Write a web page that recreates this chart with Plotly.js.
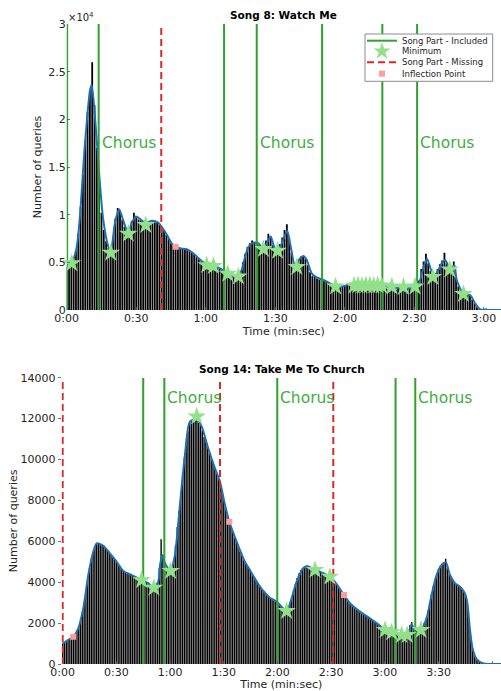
<!DOCTYPE html>
<html><head><meta charset="utf-8">
<script src="https://cdn.plot.ly/plotly-3.0.1.min.js"></script>
<style>html,body{margin:0;padding:0;background:#fff;}#chart{width:501px;height:691px;}</style>
</head><body><div id="chart"></div>
<script>
// ---------- Song 8: Watch Me ----------
const topBars = [
4500,4600,4800,5300,6200,8000,10800,14200,17800,20800,
23000,26000,21500,17000,13000,10200,8400,7200,6500,6100,
7600,9600,10700,10400,9500,8700,8000,8400,9300,10200,
9700,9500,9400,9200,9100,9250,9350,9300,9200,9150,
9000,8700,8300,7900,7500,7000,6800,6600,6500,6450,
6400,6380,6300,6150,6000,5800,5550,5350,5100,4900,
4750,4650,4600,4550,4500,4400,4300,4200,3950,3850,
3650,3500,3450,3450,3500,4100,5000,5900,6600,7000,
7300,7050,7000,6800,6550,6700,7300,8000,7700,6800,
6450,6500,6900,7600,8400,9000,7600,6000,4800,4600,
5300,5600,5700,5400,4700,3950,3600,3450,3300,3200,
3150,3050,2950,2850,2700,2500,2400,2350,2450,2500,
2600,2650,2700,2700,2450,2400,2500,2350,2400,2450,
2350,2400,2500,2400,2350,2450,2500,2300,2250,2200,
2300,2250,2150,2200,2300,2250,2150,2250,2300,2200,
2250,2400,3100,4300,5100,5900,4900,4100,3600,3800,
4300,4800,5200,6000,5000,4400,4500,5100,3400,2500,
1900,1700,1650,1600,1550,1100,700,300,80,0,
0,150
];
const topCurveT = [0,2,4.3,5.7,7.9,10.1,10.8,12.2,14.1,15.8,18,19,20.8,22.6,24.4,26.6,28,29.9,32.4,34.1,36.7,39.5,40.9,43.2,45.3,47,48.9,51.8,54.6,57.5,60.4,63.3,64.7,66.7,69.1,71.9,74.1,75.5,77,78.4,80.5,82.7,84.9,87,88,89.9,91,92.1,94.2,95.2,96.7,98.5,100.7,102.1,103.6,105.7,107.9,110.8,113.6,116.5,119.4,122.3,125,130,136,140,145,150,151.5,152.5,153.9,155.4,157.2,158.2,160.4,161.8,163.3,165.4,166.4,167.3,168.3,171.2,174.1,176.2,178.4,180,187.4];
const topCurveV = [4540,4800,6600,9800,17500,23100,23600,20300,14000,9400,6600,6100,9100,10560,9400,8000,9100,9800,9400,9100,9370,9160,8740,7900,7000,6640,6470,6370,5950,5300,4800,4600,4500,4300,3850,3500,3500,4200,5600,6600,7060,7000,6450,7340,7700,6400,6300,6600,7870,8300,6600,4700,5400,5660,5240,3850,3430,3150,2800,2380,2500,2700,2600,2550,2600,2350,2300,2300,2500,3150,4400,5400,4200,3450,4200,4900,5240,4250,4500,4700,3150,1700,1570,700,70,0,0];
const topMinT = [2.2,19,26.6,34.1,60.4,63.3,69.5,74.1,84.9,91,99.3,116,124,125.7,127.4,129.1,130.8,132.5,134.2,135.9,140.3,145.3,150.3,158,165.3,171.2];
const topMinV = [4900,6000,8000,8900,4700,4600,3800,3500,6400,6200,4500,2450,2550,2600,2550,2600,2600,2550,2600,2550,2450,2400,2450,3450,4250,1680];
const topInflT = [47];
const topInflV = [6640];
const topIncluded = [0.2,13.8,67.9,82,110.2,136.2,151.2];
const topMissing = [40.8];
const topChorus = [13.8,82,151.2];
const topTickVals = [0,30,60,90,120,150,180];
const topTickText = ['0:00','0:30','1:00','1:30','2:00','2:30','3:00'];
const topYTickVals = [0,5000,10000,15000,20000,25000,30000];
const topYTickText = ['0','0.5','1','1.5','2','2.5','3'];

// ---------- Song 14: Take Me To Church ----------
const botBars = [
1000,1050,1100,1170,1230,1290,1340,1450,1600,1800,
2150,2550,3050,3650,4200,4700,5150,5480,5750,5900,
5880,5850,5800,5760,5650,5550,5430,5320,5200,5100,
5000,4880,4750,4620,4530,4470,4420,4390,4350,4300,
4250,4220,4180,4140,4100,4050,4000,3960,3900,3820,
3760,3730,3800,4000,4700,6100,5300,4950,4700,4600,
4550,4700,5100,5800,6700,7500,8400,9300,10100,10800,
11400,11800,11900,11950,11980,11950,11800,11650,11400,11100,
10850,10600,10300,10050,9800,9580,9350,9100,8850,8500,
8000,7650,7300,6960,6700,6450,6200,6000,5750,5500,
5300,5100,4950,4800,4650,4500,4350,4200,4050,3920,
3800,3680,3570,3480,3380,3300,3230,3170,3110,3060,
3000,2900,2820,2740,2650,2600,2750,3000,3250,3600,
3900,4200,4420,4580,4680,4750,4790,4780,4740,4690,
4640,4600,4560,4530,4500,4460,4410,4360,4310,4270,
4200,4100,4030,3900,3750,3620,3500,3380,3250,3100,
2980,2900,2830,2750,2680,2620,2560,2500,2440,2370,
2320,2260,2200,2140,2080,2000,1940,1880,1800,1730,
1670,1620,1580,1550,1500,1460,1430,1420,1420,1420,
1410,1420,1420,1500,1900,2050,1700,1580,1600,1630,
1660,1800,2000,2230,2600,3000,3400,3800,4150,4400,
4650,4800,4900,4950,5150,4700,4400,4200,4050,3950,
3880,3820,3780,3700,3550,3400,3050,2200,1300,770,
450,260,150,80,40,30,20,10
];
const botCurveT = [0,3,6,8.7,11.5,14.3,17.1,19,22.7,26.4,30.2,33.9,37.6,41.3,44.1,47.8,51,53.4,54.4,55.7,57.2,60.3,62.7,65.5,68.3,71.1,74.9,77.7,81.3,85.1,87.9,90.7,93.1,97.2,101.8,104.6,108.4,112.1,115.8,119.6,122.3,125.1,127.9,130.7,134.4,136.6,141,143.7,149.3,152.1,157.2,160.5,166.1,171.7,176.3,180.1,183.8,186.6,189.4,192.5,195,196.8,200.2,203.3,206.1,208.9,211.7,214.1,216.4,219.2,222,224.7,226,227.5,229,231.3,235,238,244.9];
const botCurveV = [1000,1170,1340,1745,2720,4350,5490,5900,5785,5410,5000,4550,4390,4220,4100,3950,3730,4030,4840,5330,4920,4550,5330,7775,10220,11850,11960,11600,10550,9570,8915,7775,6960,5980,5000,4600,4030,3570,3240,3050,2800,2590,3210,4030,4680,4790,4600,4515,4270,4030,3370,2970,2560,2230,1940,1660,1550,1420,1420,1420,1950,1580,1660,2230,3370,4350,4840,4970,4350,3950,3780,3460,3050,1745,770,244,33,0,0];
const botMinT = [44.1,51,60.3,74.9,125.1,141,149.3,180.1,183.8,189.4,192.5,200.2];
const botMinV = [4100,3730,4550,12100,2590,4600,4270,1660,1550,1420,1420,1660];
const botInflT = [5.9,93.1,157.2];
const botInflV = [1335,6958,3374];
const botIncluded = [45.0,56.8,119.9,186.0,197.0];
const botMissing = [0,87.9,151.2];
const botChorus = [56.8,119.9,197.0];
const botTickVals = [0,30,60,90,120,150,180,210,240];
const botTickText = ['0:00','0:30','1:00','1:30','2:00','2:30','3:00','3:30','4:00'];
const botYTickVals = [0,2000,4000,6000,8000,10000,12000,14000];
const botYTickText = ['0','2000','4000','6000','8000','10000','12000','14000'];

const legendLabels = ['Song Part - Included','Minimum','Song Part - Missing','Inflection Point'];

// ---------- styles ----------
const GREEN = '#2ea22e', GREEN_TXT = '#3fae3f', RED = '#d92a2a', STAR = '#92e08a', PINK = '#ff9c9c', BLUE = '#1f6fb5';
const FONT = 'DejaVu Sans';

function vlines(ts, ymax){ const x=[],y=[]; ts.forEach(t=>{x.push(t,t,null);y.push(0,ymax,null);}); return {x,y}; }

function panel(xa, ya, bars, cT, cV, inc, mis, mT, mV, iT, iV, ymax){
  const tr = [];
  tr.push({type:'bar', x:bars.map((_,i)=>i), y:bars, xaxis:xa, yaxis:ya, marker:{color:'#000', line:{width:0}}, hoverinfo:'skip'});
  tr.push({type:'scatter', mode:'lines', x:cT, y:cV, xaxis:xa, yaxis:ya, line:{color:BLUE, width:2, shape:'spline', smoothing:0.7}, hoverinfo:'skip'});
  const g = vlines(inc, ymax);
  tr.push({type:'scatter', mode:'lines', x:g.x, y:g.y, xaxis:xa, yaxis:ya, line:{color:GREEN, width:2}, connectgaps:false, hoverinfo:'skip'});
  const r = vlines(mis, ymax);
  tr.push({type:'scatter', mode:'lines', x:r.x, y:r.y, xaxis:xa, yaxis:ya, line:{color:RED, width:2, dash:'7px,4px'}, connectgaps:false, hoverinfo:'skip'});
  tr.push({type:'scatter', mode:'markers', x:mT, y:mV, xaxis:xa, yaxis:ya, marker:{symbol:'star', size:14, color:STAR, line:{width:0}}, hoverinfo:'skip', cliponaxis:false});
  tr.push({type:'scatter', mode:'markers', x:iT, y:iV, xaxis:xa, yaxis:ya, marker:{symbol:'square', size:6, color:PINK, line:{width:0}}, hoverinfo:'skip'});
  return tr;
}

const traces = [
  ...panel('x','y', topBars, topCurveT, topCurveV, topIncluded, topMissing, topMinT, topMinV, topInflT, topInflV, 30000),
  ...panel('x2','y2', botBars, botCurveT, botCurveV, botIncluded, botMissing, botMinT, botMinV, botInflT, botInflV, 14000),
  // legend (drawn in a page-pixel overlay axis)
  {type:'scatter', mode:'lines', x:[365,492.7,492.7,365,365], y:[34,34,81.3,81.3,34], xaxis:'x3', yaxis:'y3', fill:'toself', fillcolor:'#ffffff', line:{color:'#8c8c8c', width:1}, hoverinfo:'skip'},
  {type:'scatter', mode:'lines', x:[367,397], y:[40.7,40.7], xaxis:'x3', yaxis:'y3', line:{color:GREEN, width:2}, hoverinfo:'skip'},
  {type:'scatter', mode:'markers', x:[382], y:[51.3], xaxis:'x3', yaxis:'y3', marker:{symbol:'star', size:13, color:STAR, line:{width:0}}, hoverinfo:'skip'},
  {type:'scatter', mode:'lines', x:[367,397], y:[62.3,62.3], xaxis:'x3', yaxis:'y3', line:{color:RED, width:2, dash:'7px,4px'}, hoverinfo:'skip'},
  {type:'scatter', mode:'markers', x:[382], y:[73.7], xaxis:'x3', yaxis:'y3', marker:{symbol:'square', size:6, color:PINK, line:{width:0}}, hoverinfo:'skip'}
];

const axBase = {showgrid:false, zeroline:false, fixedrange:true, ticks:'inside', ticklen:3, tickcolor:'#555', tickwidth:0.8,
  showline:false, tickfont:{family:FONT, size:11, color:'#262626'}};

const annotations = [
  {xref:'x3', yref:'y3', x:283.8, y:15, text:'Song 8: Watch Me', showarrow:false, font:{family:FONT, size:10.5, weight:'bold', color:'#000'}, xanchor:'center', yanchor:'middle'},
  {xref:'x3', yref:'y3', x:281.9, y:369.3, text:'Song 14: Take Me To Church', showarrow:false, font:{family:FONT, size:10.5, weight:'bold', color:'#000'}, xanchor:'center', yanchor:'middle'},
  {xref:'x3', yref:'y3', x:66, y:17, text:'×10<sup>4</sup>', showarrow:false, font:{family:FONT, size:10, color:'#262626'}, xanchor:'left', yanchor:'middle'}
];
topChorus.forEach(t=>annotations.push({xref:'x', yref:'y', x:t, y:17500, text:'Chorus', showarrow:false, xanchor:'left', yanchor:'middle', xshift:1, font:{family:FONT, size:15.5, color:GREEN_TXT}}));
botChorus.forEach(t=>annotations.push({xref:'x2', yref:'y2', x:t, y:13000, text:'Chorus', showarrow:false, xanchor:'left', yanchor:'middle', xshift:1, font:{family:FONT, size:15.5, color:GREEN_TXT}}));
const legRows = [40.7,51.3,62.3,73.7];
legendLabels.forEach((s,i)=>annotations.push({xref:'x3', yref:'y3', x:399.5, y:legRows[i], text:s, showarrow:false, xanchor:'left', yanchor:'middle', font:{family:FONT, size:8.5, color:'#262626'}}));

const layout = {
  width:501, height:691, margin:{l:0,r:0,t:0,b:0},
  paper_bgcolor:'#ffffff', plot_bgcolor:'rgba(0,0,0,0)', showlegend:false,
  font:{family:FONT, size:11, color:'#262626'},
  bargap:0.22,
  xaxis: Object.assign({}, axBase, {domain:[66.7/501,1], range:[0,187.4], anchor:'y', tickvals:topTickVals, ticktext:topTickText,
    title:{text:'Time (min:sec)', font:{family:FONT,size:11,color:'#262626'}, standoff:3}}),
  yaxis: Object.assign({}, axBase, {domain:[1-310/691, 1-24/691], range:[0,30000], anchor:'x', tickvals:topYTickVals, ticktext:topYTickText,
    title:{text:'Number of queries', font:{family:FONT,size:11,color:'#262626'}, standoff:4}}),
  xaxis2: Object.assign({}, axBase, {domain:[61.6/501,1], range:[-0.6,244.9], anchor:'y2', tickvals:botTickVals, ticktext:botTickText,
    title:{text:'Time (min:sec)', font:{family:FONT,size:11,color:'#262626'}, standoff:3}}),
  yaxis2: Object.assign({}, axBase, {domain:[1-664/691, 1-377.7/691], range:[0,14000], anchor:'x2', tickvals:botYTickVals, ticktext:botYTickText,
    ticks:'outside', ticklen:3, title:{text:'Number of queries', font:{family:FONT,size:11,color:'#262626'}, standoff:0}}),
  xaxis3: {domain:[0,1], range:[0,501], anchor:'y3', visible:false, fixedrange:true},
  yaxis3: {domain:[0,1], range:[691,0], anchor:'x3', visible:false, fixedrange:true},
  annotations: annotations
};

Plotly.newPlot('chart', traces, layout, {displayModeBar:false, staticPlot:true});
</script>
</body></html>
